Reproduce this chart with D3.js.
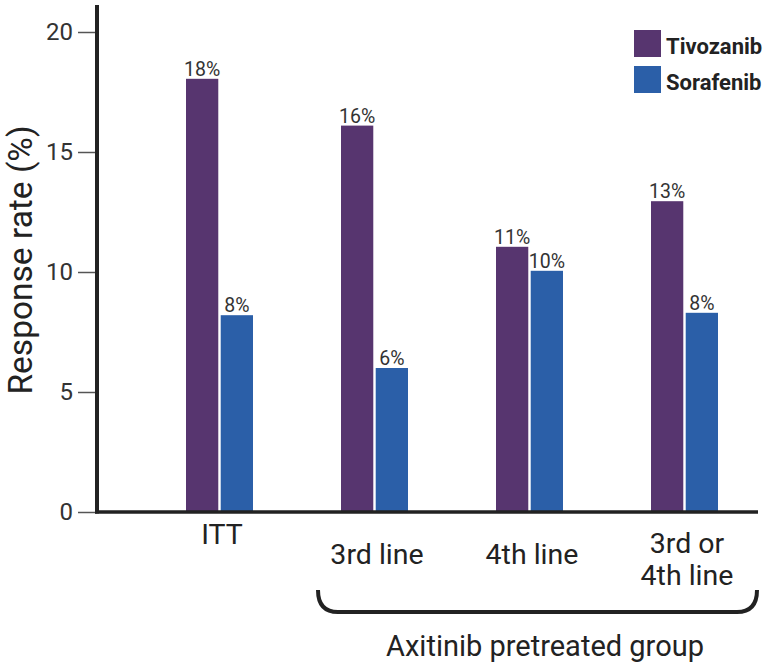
<!DOCTYPE html>
<html><head><meta charset="utf-8">
<script src="https://cdn.jsdelivr.net/npm/d3@7"></script>
<style>body{margin:0;background:#fff;}svg{display:block;font-family:Roboto,sans-serif;}</style>
</head><body><svg id="c" width="768" height="664"></svg>
<script>
const categories = ["ITT", "3rd line", "4th line", "3rd or\n4th line"];
const series = ["Tivozanib", "Sorafenib"];
const tivozanib = [18.05, 16.1, 11.05, 12.95];
const sorafenib = [8.2, 6.0, 10.05, 8.3];
const valueLabels = [["18%", "8%"], ["16%", "6%"], ["11%", "10%"], ["13%", "8%"]];
const yTicks = [0, 5, 10, 15, 20];
const colors = ["#57356f", "#2b5fa8"];

const svg = d3.select("#c");
const y = d3.scaleLinear().domain([0, 20]).range([512, 32]);
const x0 = d3.scaleBand().domain(categories).range([142, 762]).paddingInner(0).paddingOuter(0);
const x1 = d3.scaleBand().domain(series).range([0, 67]).paddingInner(0.07);
const xOff = 44;

// y axis ticks
const yAxis = d3.axisLeft(y).tickValues(yTicks).tickSize(19).tickPadding(5);
const gy = svg.append("g").attr("transform", "translate(97,0)").call(yAxis);
gy.select(".domain").remove();
gy.selectAll(".tick line").attr("stroke", "#555").attr("stroke-width", 1.5);
gy.selectAll(".tick text").attr("font-size", 24).attr("fill", "#333").attr("font-family", "Roboto");

// bars
const data = categories.map((c, i) => ({c, vals: [tivozanib[i], sorafenib[i]], labels: valueLabels[i]}));
const groups = svg.append("g").selectAll("g").data(data).join("g")
  .attr("transform", d => `translate(${x0(d.c) + xOff},0)`);
groups.selectAll("rect").data(d => d.vals.map((v, j) => ({v, s: series[j], j})))
  .join("rect")
  .attr("x", d => x1(d.s)).attr("width", x1.bandwidth())
  .attr("y", d => y(d.v)).attr("height", d => y(0) - y(d.v))
  .attr("fill", d => colors[d.j]);
groups.selectAll("text").data(d => d.vals.map((v, j) => ({v, s: series[j], l: d.labels[j]})))
  .join("text")
  .attr("x", d => x1(d.s) + x1.bandwidth() / 2).attr("y", d => y(d.v) - 3)
  .attr("text-anchor", "middle").attr("font-size", 19.5).attr("fill", "#333").text(d => d.l);

// axes lines
svg.append("line").attr("x1", 97).attr("x2", 97).attr("y1", 5).attr("y2", 513.5)
  .attr("stroke", "#222").attr("stroke-width", 4);
svg.append("line").attr("x1", 95).attr("x2", 758).attr("y1", 512).attr("y2", 512)
  .attr("stroke", "#222").attr("stroke-width", 3.5);

// category labels
const labelY = [544, 564, 564, 553];
categories.forEach((c, i) => {
  const cx = x0(c) + xOff + 36;
  const t = svg.append("text").attr("text-anchor", "middle").attr("font-size", 28.5).attr("fill", "#222");
  c.split("\n").forEach((ln, k) => {
    t.append("tspan").attr("x", cx).attr("y", labelY[i] + k * 32).text(ln);
  });
});

// brace
const bx0 = 318, bx1 = 757, byTop = 590, byBot = 612, r = 20;
svg.append("path")
  .attr("d", `M${bx0},${byTop} Q${bx0},${byBot} ${bx0 + r},${byBot} L${bx1 - r},${byBot} Q${bx1},${byBot} ${bx1},${byTop}`)
  .attr("fill", "none").attr("stroke", "#222").attr("stroke-width", 4);
svg.append("text").attr("x", 545).attr("y", 656).attr("text-anchor", "middle")
  .attr("font-size", 29).attr("fill", "#222").text("Axitinib pretreated group");

// y title
svg.append("text").attr("transform", "translate(32,260) rotate(-90)").attr("text-anchor", "middle")
  .attr("font-size", 33.5).attr("fill", "#222").text("Response rate (%)");

// legend
series.forEach((s, i) => {
  svg.append("rect").attr("x", 634).attr("y", 30 + i * 36).attr("width", 27).attr("height", 27).attr("fill", colors[i]);
  svg.append("text").attr("x", 666).attr("y", 54 + i * 36).attr("font-size", 22).attr("font-weight", "bold")
    .attr("fill", "#222").text(s);
});
</script></body></html>
